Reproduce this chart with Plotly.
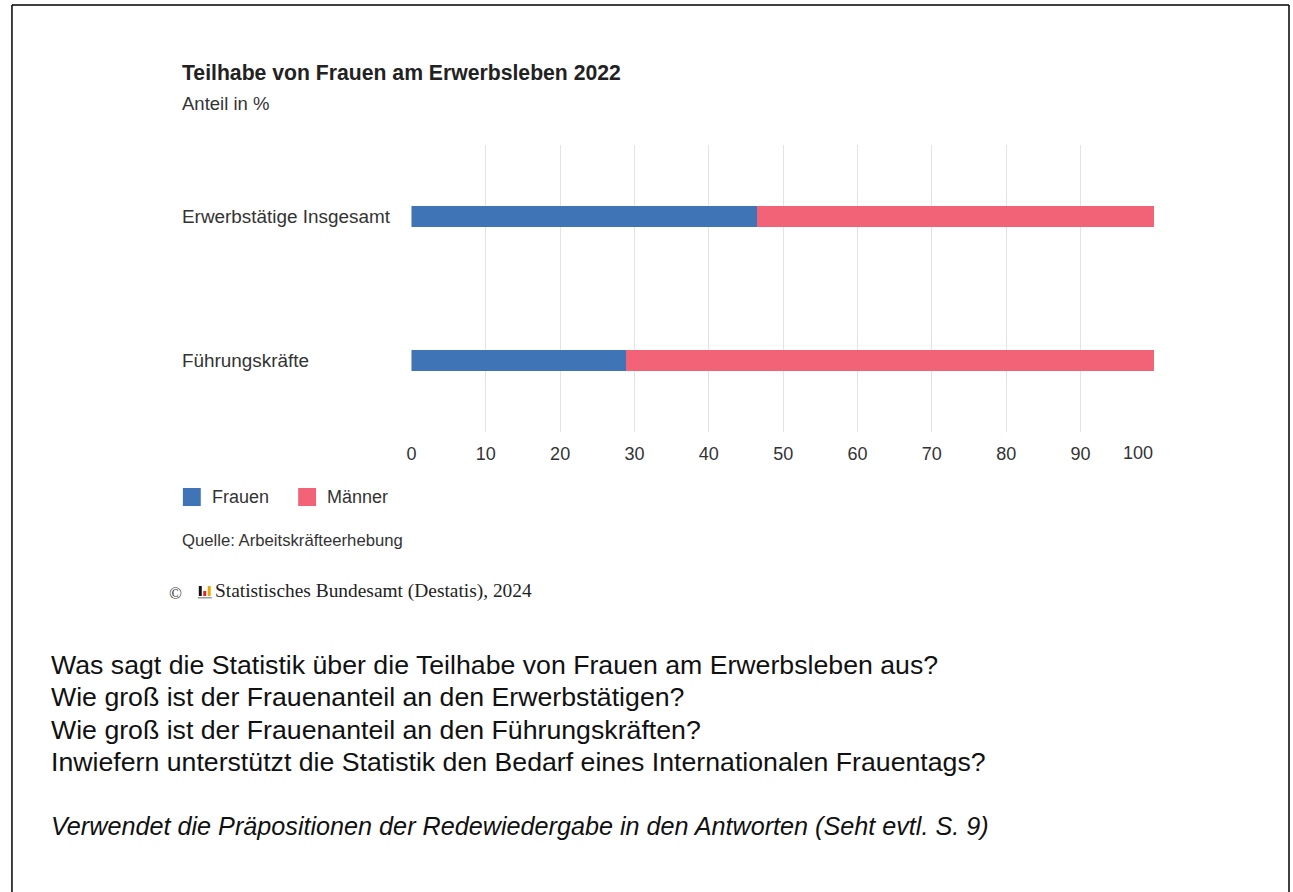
import plotly.graph_objects as go

# ---- data ----
categories = ["Erwerbstätige Insgesamt", "Führungskräfte"]
frauen = [46.6, 28.9]
maenner = [53.4, 71.1]
series_names = ["Frauen", "Männer"]
series_colors = ["#3F74B7", "#F26377"]
tick_vals = [0, 10, 20, 30, 40, 50, 60, 70, 80, 90, 100]

title = "Teilhabe von Frauen am Erwerbsleben 2022"
subtitle = "Anteil in %"
source = "Quelle: Arbeitskräfteerhebung"
copyright_txt = "Statistisches Bundesamt (Destatis), 2024"
questions = [
    "Was sagt die Statistik über die Teilhabe von Frauen am Erwerbsleben aus?",
    "Wie groß ist der Frauenanteil an den Erwerbstätigen?",
    "Wie groß ist der Frauenanteil an den Führungskräften?",
    "Inwiefern unterstützt die Statistik den Bedarf eines Internationalen Frauentags?",
]
hint = "Verwendet die Präpositionen der Redewiedergabe in den Antworten (Seht evtl. S. 9)"

REF_W, H = 1293, 892
FONT = "Liberation Sans, Arial, sans-serif"
SERIF = "Liberation Serif, Times New Roman, serif"

def px(x):
    return x / REF_W

def py(y):
    return 1 - y / H

fig = go.Figure()
for name, vals, col in zip(series_names, [frauen, maenner], series_colors):
    fig.add_trace(go.Bar(
        y=categories, x=vals, name=name, orientation="h",
        marker=dict(color=col, line=dict(width=0)), width=0.147,
        showlegend=False, hoverinfo="skip",
    ))

annotations = []
shapes = []

def txt(text, x, y, size, color="#333333", family=FONT, yref="paper", xanchor="left"):
    annotations.append(dict(text=text, x=px(x), y=(py(y) if yref == "paper" else y),
                            xref="paper", yref=yref, xanchor=xanchor, yanchor="middle",
                            showarrow=False, font=dict(family=family, size=size, color=color)))

txt(f"<b>{title}</b>", 176, 72, 21.2, "#222222")
txt(subtitle, 176, 103, 18.5)
for cat in categories:
    txt(cat, 176, cat, 18.9, yref="y")

# legend
leg_x = [179, 295]
for lx, name, col in zip(leg_x, series_names, series_colors):
    shapes.append(dict(type="rect", xref="paper", yref="paper",
                       x0=px(lx), x1=px(lx + 18), y0=py(506), y1=py(488),
                       fillcolor=col, line=dict(width=0)))
    txt(name, lx + 27, 497, 18)

txt(source, 176, 540, 16.7)
txt("©", 163, 593, 17, "#333333", SERIF)
txt(copyright_txt, 209, 591, 19.4, "#222222", SERIF)
# logo bars
for (x0, x1, y0, y1, c) in [(195, 198, 586, 596, "#111111"), (199.5, 202.5, 591, 596, "#D8282F"),
                            (204, 207, 586, 596, "#E8A800"), (194, 208, 597, 598.5, "#9a9a9a")]:
    shapes.append(dict(type="rect", xref="paper", yref="paper", x0=px(x0), x1=px(x1),
                       y0=py(y1), y1=py(y0), fillcolor=c, line=dict(width=0)))

q_y = [665, 697, 730, 762]
for q, yy in zip(questions, q_y):
    txt(q, 44, yy, 26.7, "#111111")
txt(f"<i>{hint}</i>", 44, 826, 25.2, "#111111")

# last tick label is right-aligned to its gridline (as in the original)
annotations.append(dict(text=str(tick_vals[-1]), x=tick_vals[-1], xref="x", y=py(453), yref="paper",
                        xanchor="right", yanchor="middle", showarrow=False,
                        font=dict(family=FONT, size=18, color="#333333")))

# page border
for (x0, x1, y0, y1) in [(7, 7, 892, 5), (7, 1292, 5, 5), (1292, 1292, 892, 5)]:
    shapes.append(dict(type="line", xref="paper", yref="paper", x0=px(x0), x1=px(x1),
                       y0=py(y0), y1=py(y1), line=dict(color="black", width=1.5)))

fig.update_layout(
    height=H, autosize=True,
    margin=dict(l=0, r=0, t=0, b=0),
    paper_bgcolor="white", plot_bgcolor="white",
    barmode="stack", bargap=0,
    xaxis=dict(domain=[px(409), px(1157)], range=[0, 100], tickvals=tick_vals,
               ticktext=[str(v) for v in tick_vals[:-1]] + [" "],
               showgrid=True, gridcolor="#E3E3E3", gridwidth=1, zeroline=False,
               showline=False, ticks="", tickfont=dict(family=FONT, size=18, color="#333333"),
               ticklabelstandoff=9, fixedrange=True),
    yaxis=dict(domain=[py(432), py(145)], categoryorder="array", categoryarray=categories,
               range=[1.5, -0.5], autorange=False, showticklabels=False, showgrid=False,
               zeroline=False, showline=False, ticks="", fixedrange=True),
    annotations=annotations, shapes=shapes,
    font=dict(family=FONT),
    hovermode=False,
)

fig.write_html(
    "out.html",
    default_width="100%",
    config={"displayModeBar": False, "responsive": True},
    post_script=(
        "document.documentElement.style.margin='0';"
        "document.body.style.margin='0';"
        "document.body.style.overflow='hidden';"
        "document.documentElement.style.overflow='hidden';"
        "var gd=document.getElementById('{plot_id}');"
        "if (window.Plotly && gd) { Plotly.Plots.resize(gd); }"
    ),
)
